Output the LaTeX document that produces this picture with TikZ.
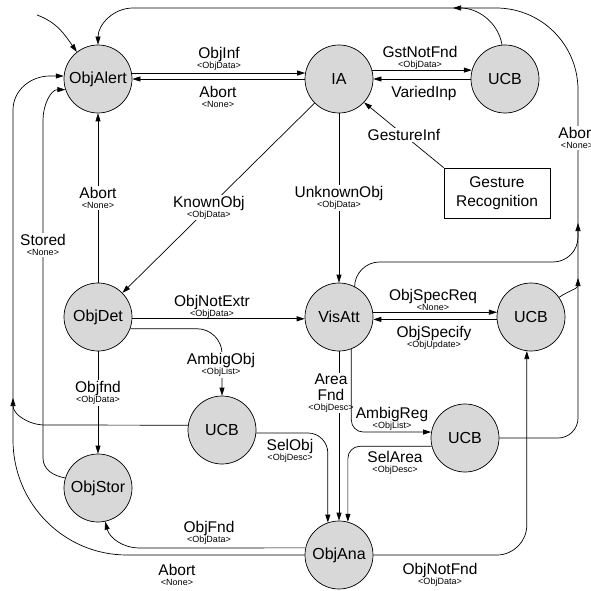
\documentclass[tikz,border=0pt]{standalone}
\usepackage{fontspec}
\setmainfont{Liberation Sans}
\usetikzlibrary{arrows.meta}

\definecolor{stategray}{RGB}{216,216,216}
\newcommand{\tlab}[2]{#1\\{\fontsize{9}{10}\selectfont #2}}

\begin{document}
\begin{tikzpicture}[x=1pt, y=1pt, line width=0.7pt,
    state/.style={circle, draw, fill=stategray, minimum size=68pt, inner sep=0pt,
        font=\fontsize{16}{16}\selectfont},
    gbox/.style={rectangle, draw, minimum width=106pt, minimum height=50pt,
        align=center, font=\fontsize{15.5}{19}\selectfont},
    arr/.style={-{Triangle[length=8pt,width=5pt]}},
    elbl/.style={font=\fontsize{15.5}{10}\selectfont, align=center, inner sep=1pt},
    onl/.style={elbl, fill=white}]

                \useasboundingbox (0,0) rectangle (591,590);

                % Draw states
                \node[state] (alert) at (98,511) {ObjAlert};
                \node[state] (ia) at (339,511) {IA};
                \node[state] (ucbA) at (505,511) {UCB};
                \node[gbox] (gest) at (497,397) {Gesture\\Recognition};
                \node[state] (det) at (98,273) {ObjDet};
                \node[state] (vis) at (339,273) {VisAtt};
                \node[state] (ucbB) at (531,273) {UCB};
                \node[state] (ucbC) at (222,160) {UCB};
                \node[state] (ucbD) at (465,152) {UCB};
                \node[state] (stor) at (98,102) {ObjStor};
                \node[state] (ana) at (339,35) {ObjAna};

                % Entry
                \coordinate (entry) at (37,575);
                \draw[arr] (entry) to[out=-20,in=125] (alert.128);

                % ObjAlert and IA
                \draw[arr] (alert.10) -- (ia.170);
                \draw[arr] (ia.west) -- (alert.east);
                \node[elbl] (lInf) at (219,531) {\tlab{ObjInf}{<ObjData>}};
                \node[elbl] (lAbortA) at (218,493) {\tlab{Abort}{<None>}};

                % IA and UCB
                \draw[arr] (ia.15) -- (ucbA.165);
                \draw[arr] (ucbA.west) -- (ia.east);
                \node[elbl] (lGst) at (420,532) {\tlab{GstNotFnd}{<ObjData>}};
                \node[elbl] (lVaried) at (424,497) {VariedInp};

                % Gesture input
                \draw[arr] (gest.north west) -- (ia.-43) node[onl, midway] (lGesture) {GestureInf};

                % Abort bus, right side
                \draw[arr] (ucbD.east) -- (558,152) to[out=0,in=-90] (578,172) -- (578,500)
                    to[out=90,in=0] (496,582) -- (133,582) to[out=180,in=90] (alert.north);
                \node[onl] (lAbortR) at (577,452) {\tlab{Abort}{<None>}};
                \draw[arr] (ucbA.95) to[out=100,in=0] (453,582);
                \draw[arr, rounded corners=25pt] (vis.63) |- (578,328) -- (578,367);
                \draw[arr] (ucbB.35) to[out=35,in=-90] (578,312);

                % Abort bus, left side
                \draw[arr] (ana.west) -- (127,35) to[out=180,in=-90] (13,150) -- (13,480)
                    to[out=90,in=180] (50,514) -- (alert.175);
                \node[elbl] (lAbortB) at (177,15) {\tlab{Abort}{<None>}};
                \draw[arr] (ucbC.172) -- (45,165) to[out=180,in=-90] (13,192);

                % Stored
                \draw[arr] (stor.163) to[out=170,in=-90] (43,132) -- (43,470)
                    to[out=90,in=180] (alert.198);
                \node[onl] (lStored) at (43,345) {\tlab{Stored}{<None>}};

                % ObjDet
                \draw[arr] (det.north) -- (alert.south) node[onl, midway] (lAbortD) {\tlab{Abort}{<None>}};
                \draw[arr] (ia) -- (det) node[onl, pos=0.55] (lKnown) {\tlab{KnownObj}{<ObjData>}};
                \draw[arr] (det.-3) -- (vis.183);
                \node[elbl] (lNotExtr) at (212,283) {\tlab{ObjNotExtr}{<ObjData>}};
                \draw[arr, rounded corners=25pt] (det.-20) -| (ucbC.north);
                \node[onl] (lAmbigObj) at (221,225) {\tlab{AmbigObj}{<ObjList>}};
                \draw[arr] (det.south) -- (stor.north);
                \node[onl] (lObjfnd) at (98,197) {\tlab{Objfnd}{<ObjData>}};

                % IA to VisAtt
                \draw[arr] (ia.south) -- (vis.north) node[onl, midway] (lUnknown) {\tlab{UnknownObj}{<ObjData>}};

                % VisAtt and UCB
                \draw[arr] (vis.8) -- (ucbB.172);
                \draw[arr] (ucbB.184) -- (vis.-4);
                \node[elbl] (lSpecReq) at (433,290) {\tlab{ObjSpecReq}{<None>}};
                \node[elbl] (lSpecify) at (434,252) {\tlab{ObjSpecify}{<ObjUpdate>}};

                % Into ObjAna
                \draw[arr] (vis.south) -- (ana.north);
                \node[onl] (lArea) at (331,197) {Area\\[3pt]\tlab{Fnd}{<ObjDesc>}};
                \draw[arr, rounded corners=12pt] (vis.-69) |- (ucbD.170);
                \node[elbl] (lAmbigReg) at (392,171) {\tlab{AmbigReg}{<ObjList>}};
                \draw[arr, rounded corners=20pt] (ucbC.-5) -| (ana.109);
                \node[elbl] (lSelObj) at (290,139) {\tlab{SelObj}{<ObjDesc>}};
                \draw[arr, rounded corners=12pt] (ucbD.194) -| (ana.75);
                \node[elbl] (lSelArea) at (395,127) {\tlab{SelArea}{<ObjDesc>}};

                % Out of ObjAna
                \draw[arr] (ana.168) -- (140,42) to[out=180,in=-75] (stor.-78);
                \node[elbl] (lObjFnd) at (209,57) {\tlab{ObjFnd}{<ObjData>}};
                \draw[arr, rounded corners=30pt] (ana.east) -| (ucbB.263);
                \node[elbl] (lNotFnd) at (440,15) {\tlab{ObjNotFnd}{<ObjData>}};

\end{tikzpicture}
\end{document}
